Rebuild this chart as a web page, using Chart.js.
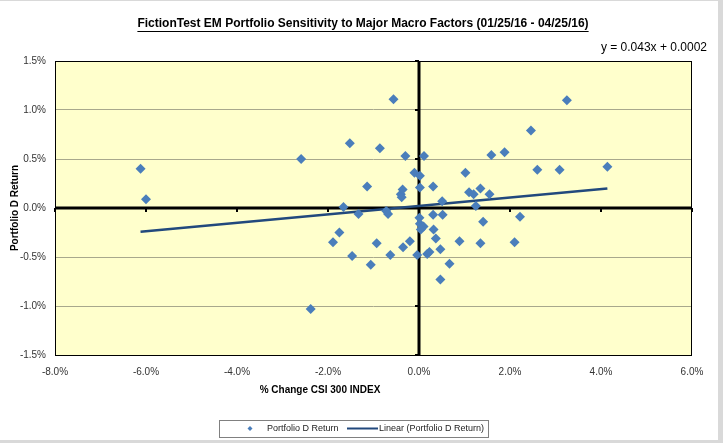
<!DOCTYPE html>
<html>
<head>
<meta charset="utf-8">
<script src="https://cdn.jsdelivr.net/npm/chart.js@4/dist/chart.umd.min.js"></script>
<style>
  body { margin: 0; background: #fff; }
  canvas { display: block; }
</style>
</head>
<body>
<canvas id="sensChart" width="723" height="443"></canvas>
<script>
// CSI 300 % change (x) vs Portfolio D return (y), both in percent
const csiChange = [
  -6.12, -6.00, -2.59, -2.38, -1.89, -1.75, -1.66, -1.52, -1.47, -1.33,
  -1.14, -1.06, -0.93, -0.86, -0.72, -0.68, -0.63, -0.56, -0.40, -0.38,
  -0.36, -0.35, -0.30, -0.20, -0.10, -0.04, 0.02, 0.02, 0.01, 0.02,
  0.10, 0.04, 0.11, 0.18, 0.23, 0.31, 0.31, 0.32, 0.37, 0.47,
  0.47, 0.51, 0.52, 0.67, 0.89, 1.02, 1.10, 1.20, 1.25, 1.35,
  1.35, 1.41, 1.55, 1.59, 1.88, 2.10, 2.22, 2.46, 2.60, 3.09,
  3.25, 4.14
];
const portfolioReturn = [
  0.40, 0.09, 0.50, -1.03, -0.35, -0.25, 0.01, 0.66, -0.49, -0.06,
  0.22, -0.58, -0.36, 0.61, -0.03, -0.06, -0.48, 1.11, 0.14, 0.11,
  0.19, -0.40, 0.53, -0.34, 0.36, -0.48, 0.33, 0.21, -0.10, -0.16,
  -0.19, -0.22, 0.53, -0.47, -0.45, 0.22, -0.07, -0.22, -0.31, -0.42,
  -0.73, 0.07, -0.07, -0.57, -0.34, 0.36, 0.16, 0.14, 0.02, 0.20,
  -0.36, -0.14, 0.14, 0.54, 0.57, -0.35, -0.09, 0.79, 0.39, 0.39,
  1.10, 0.42
];

// trendline as shown on the chart (fractions)
const trendSlope = 0.043;
const trendIntercept = 0.0002;

const xTicks = [-8, -6, -4, -2, 0, 2, 4, 6];
const yTicks = [-1.5, -1.0, -0.5, 0.0, 0.5, 1.0, 1.5];

const chartTitle = 'FictionTest EM Portfolio Sensitivity to Major Macro Factors (01/25/16 - 04/25/16)';
const xTitle = '% Change CSI 300 INDEX';
const yTitle = 'Portfolio D Return';
const seriesName = 'Portfolio D Return';
const trendName = 'Linear (Portfolio D Return)';

const pointColor = '#4a7ebb';
const trendColor = '#22497d';
const FONT = "'Liberation Sans', Arial, sans-serif";

let points = csiChange.map((x, i) => ({ x: x, y: portfolioReturn[i] }));
let xMin = Math.min(...csiChange);
let xMax = Math.max(...csiChange);
let trendPoints = [xMin, xMax].map(x => ({ x: x, y: trendSlope * x + trendIntercept * 100 }));

//Background, frame, plot fill, zero axes
let backdrop = {
  id: 'backdrop',
  beforeDraw(chart) {
    let ctx = chart.ctx;
    let a = chart.chartArea;
    ctx.save();
    ctx.fillStyle = '#fff';
    ctx.fillRect(0, 0, chart.width, chart.height);
    ctx.fillStyle = '#d9d9d9';
    ctx.fillRect(0, 0, chart.width, 1);
    ctx.fillRect(chart.width - 5, 0, 5, chart.height);
    ctx.fillRect(0, chart.height - 3, chart.width, 3);
    ctx.fillStyle = '#ffffcc';
    ctx.fillRect(a.left, a.top, a.right - a.left, a.bottom - a.top);
    ctx.restore();
  },
  beforeDatasetsDraw(chart) {
    let ctx = chart.ctx;
    let a = chart.chartArea;
    let xs = chart.scales.x;
    let ys = chart.scales.y;
    let x0 = xs.getPixelForValue(0);
    let y0 = ys.getPixelForValue(0);
    ctx.save();
    ctx.strokeStyle = '#000';
    ctx.lineWidth = 1;
    ctx.strokeRect(a.left + 0.5, a.top + 0.5, a.right - a.left - 1, a.bottom - a.top);
    // tick marks on the zero axes
    ctx.lineWidth = 2;
    xTicks.forEach(v => {
      let px = xs.getPixelForValue(v);
      ctx.beginPath();
      ctx.moveTo(px, y0);
      ctx.lineTo(px, y0 + 4);
      ctx.stroke();
    });
    yTicks.forEach(v => {
      let py = ys.getPixelForValue(v);
      ctx.beginPath();
      ctx.moveTo(x0 - 4, py);
      ctx.lineTo(x0, py);
      ctx.stroke();
    });
    ctx.lineWidth = 3;
    ctx.beginPath();
    ctx.moveTo(a.left, y0);
    ctx.lineTo(a.right, y0);
    ctx.moveTo(x0, a.top);
    ctx.lineTo(x0, a.bottom);
    ctx.stroke();
    ctx.restore();
  }
};

//Titles, equation and legend
let labels = {
  id: 'labels',
  afterDraw(chart) {
    let ctx = chart.ctx;
    let a = chart.chartArea;
    ctx.save();
    ctx.fillStyle = '#000';
    ctx.textBaseline = 'middle';

    ctx.font = 'bold 12px ' + FONT;
    ctx.textAlign = 'center';
    let tx = 363;
    ctx.fillText(chartTitle, tx, 24);
    let tw = ctx.measureText(chartTitle).width;
    ctx.fillRect(tx - tw / 2, 31, tw, 1);

    ctx.font = '12px ' + FONT;
    ctx.textAlign = 'right';
    ctx.fillText('y = ' + trendSlope.toFixed(3) + 'x + ' + trendIntercept.toFixed(4), 707, 48);

    ctx.font = 'bold 10px ' + FONT;
    ctx.textAlign = 'center';
    ctx.fillText(xTitle, 320, 390);

    ctx.save();
    ctx.translate(15, (a.top + a.bottom) / 2);
    ctx.rotate(-Math.PI / 2);
    ctx.fillText(yTitle, 0, 0);
    ctx.restore();

    // legend
    ctx.strokeStyle = '#808080';
    ctx.lineWidth = 1;
    ctx.strokeRect(219.5, 420.5, 269, 17);
    ctx.fillStyle = pointColor;
    ctx.beginPath();
    ctx.moveTo(250, 426);
    ctx.lineTo(252.5, 428.5);
    ctx.lineTo(250, 431);
    ctx.lineTo(247.5, 428.5);
    ctx.closePath();
    ctx.fill();
    ctx.strokeStyle = trendColor;
    ctx.lineWidth = 2;
    ctx.beginPath();
    ctx.moveTo(347, 428.5);
    ctx.lineTo(378, 428.5);
    ctx.stroke();
    ctx.fillStyle = '#222';
    ctx.font = '9px ' + FONT;
    ctx.textAlign = 'left';
    ctx.fillText(seriesName, 267, 429);
    ctx.fillText(trendName, 379, 429);
    ctx.restore();
  }
};

let ctx = document.getElementById('sensChart').getContext('2d');
let sensChart = new Chart(ctx, {
  type: 'scatter',
  data: {
    datasets: [{
      label: seriesName,
      data: points,
      pointStyle: 'rectRot',
      pointRadius: 5,
      backgroundColor: pointColor,
      borderColor: pointColor,
      borderWidth: 0
    }, {
      label: trendName,
      type: 'line',
      data: trendPoints,
      showLine: true,
      pointRadius: 0,
      borderColor: trendColor,
      borderWidth: 2.5,
      fill: false
    }]
  },
  options: {
    responsive: false,
    animation: false,
    layout: { padding: { top: 61, right: 31, left: 0, bottom: 0 } },
    plugins: {
      legend: { display: false },
      title: { display: false },
      tooltip: { enabled: false }
    },
    scales: {
      x: {
        type: 'linear',
        min: xTicks[0],
        max: xTicks[xTicks.length - 1],
        afterBuildTicks: s => { s.ticks = xTicks.map(v => ({ value: v })); },
        afterFit: s => { s.height = 88; },
        grid: { display: false },
        border: { display: false },
        ticks: {
          padding: 3,
          color: '#333',
          font: { family: FONT, size: 10 },
          maxRotation: 0,
          callback: v => v.toFixed(1) + '%'
        }
      },
      y: {
        type: 'linear',
        min: yTicks[0],
        max: yTicks[yTicks.length - 1],
        afterBuildTicks: s => { s.ticks = yTicks.map(v => ({ value: v })); },
        afterFit: s => { s.width = 55; },
        grid: { color: '#a8a88c', lineWidth: 1, drawTicks: false },
        border: { display: false },
        ticks: {
          padding: 9,
          color: '#333',
          font: { family: FONT, size: 10 },
          callback: v => v.toFixed(1) + '%'
        }
      }
    }
  },
  plugins: [backdrop, labels]
});
</script>
</body>
</html>
